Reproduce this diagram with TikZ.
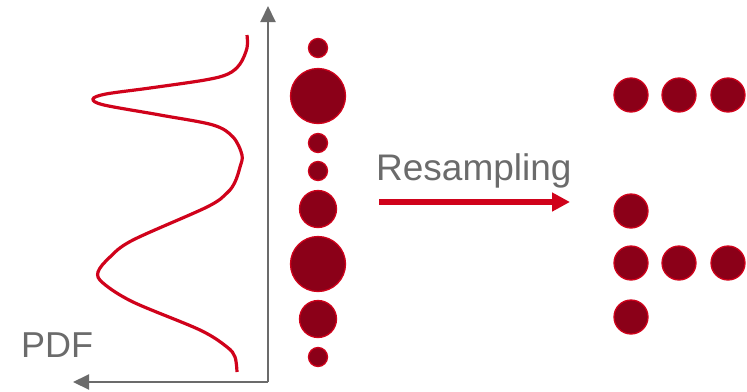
\documentclass[tikz,border=0pt]{standalone}
\usepackage{fontspec}
\setmainfont{Liberation Sans}
\usetikzlibrary{arrows.meta}
\definecolor{axisgray}{RGB}{107,107,107}
\definecolor{crim}{RGB}{208,2,27}
\definecolor{dred}{RGB}{139,0,24}
\tikzset{
  axisline/.style={draw=axisgray, line width=2pt, -{Triangle[length=16pt,width=15pt]}},
  pdfcurve/.style={draw=crim, line width=3.2pt},
  dot/.style={circle, fill=dred, draw=crim, line width=1.3pt, inner sep=0pt, minimum size=#1},
  dot/.default=34pt,
  lbl/.style={text=axisgray, font=\fontsize{36}{40}\selectfont, inner sep=0pt, anchor=base west},
  bigarrow/.style={draw=crim, line width=6pt, -{Triangle[length=18pt,width=18pt]}}
}
\begin{document}
\begin{tikzpicture}[x=1pt,y=-1pt]
\useasboundingbox (0,0) rectangle (747,391);
% axes
\coordinate (origin) at (268,382);
\coordinate (ytip) at (268,6);
\coordinate (xtip) at (73,382);
\draw[axisline] (origin) -- (ytip);
\draw[axisline] (origin) -- (xtip);
\node[lbl] (pdf) at (21,357) {PDF};
% curve
\draw[pdfcurve] plot[smooth, tension=0.55] coordinates {
 (247,35) (247,48) (240,64) (228,74) (205,80) (150,88) (106,94) (93,99) (104,105)
 (160,115) (213,125) (233,137) (242,155) (240,167) (235,182) (227,193) (207,207)
 (133,240) (110,257) (98,272) (103,283) (133,302) (200,330) (227,347) (235,357) (237,372)};
% left column of samples
\node[dot=19pt] (s1) at (318,48) {};
\node[dot=55pt] (s2) at (318,96) {};
\node[dot=19pt] (s3) at (318,143) {};
\node[dot=19pt] (s4) at (318,171) {};
\node[dot=37pt] (s5) at (318,209) {};
\node[dot=55pt] (s6) at (318,264) {};
\node[dot=37pt] (s7) at (318,319) {};
\node[dot=19pt] (s8) at (318,357) {};
% arrow and label
\coordinate (astart) at (379,202);
\coordinate (aend) at (570,202);
\draw[bigarrow] (astart) -- (aend);
\node[lbl, font=\fontsize{37}{40}\selectfont] (res) at (376,180) {Resampling};
% right samples
\node[dot] (r11) at (631,95) {};
\node[dot] (r12) at (679,95) {};
\node[dot] (r13) at (728,95) {};
\node[dot] (r21) at (631,211) {};
\node[dot] (r31) at (631,263) {};
\node[dot] (r32) at (679,263) {};
\node[dot] (r33) at (728,263) {};
\node[dot] (r41) at (631,317) {};
\end{tikzpicture}
\end{document}
